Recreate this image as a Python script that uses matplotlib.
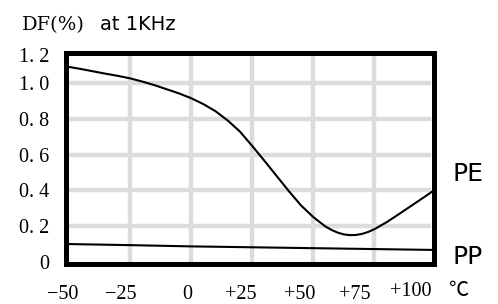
import numpy as np
import matplotlib
matplotlib.use('Agg')
import matplotlib.pyplot as plt

#Datos
temp = [-50, -45, -40, -35, -30, -25, -20, -15, -10, -5, 0, 5, 10, 15, 20, 25,
        30, 35, 40, 45, 50, 55, 57.5, 60, 62.5, 65, 67.5, 70, 72.5, 75, 80, 85,
        90, 95, 100]
pe = [1.09, 1.078, 1.065, 1.052, 1.04, 1.026, 1.008, 0.988, 0.965, 0.942, 0.915,
      0.882, 0.842, 0.79, 0.728, 0.648, 0.565, 0.48, 0.395, 0.315, 0.25, 0.197,
      0.178, 0.163, 0.153, 0.149, 0.15, 0.156, 0.167, 0.182, 0.221, 0.266,
      0.312, 0.358, 0.405]
pp_temp = [-50, -25, 0, 25, 50, 75, 100]
pp = [0.099, 0.093, 0.086, 0.081, 0.076, 0.071, 0.066]

grid_x = [-25, 0, 25, 50, 75]
y_ticks = [0, 0.2, 0.4, 0.6, 0.8, 1.0, 1.2]
y_labels = ['0', '0. 2', '0. 4', '0. 6', '0. 8', '1. 0', '1. 2']
x_labels = ['\u221250', '\u221225', '0', '+25', '+50', '+75', '+100', '\u2103']
x_label_pos = [-52.6, -28.9, -1.5, 20.2, 44.4, 67.1, 89.8, 109.2]

serif = ['Liberation Serif', 'Noto Sans CJK JP']

fig = plt.figure(figsize=(4.98, 3.04), dpi=100)
ax = fig.add_axes([0.1321, 0.1309, 0.7398, 0.6964])

ax.set_xlim(-51.3, 99.5)
ax.set_ylim(-0.0137, 1.1706)

#Rejilla gris
for g in grid_x:
    ax.axvline(g, color='#dcdcdc', lw=3.2, zorder=0)
for t in y_ticks[1:-1]:
    ax.axhline(t, xmax=0.985, color='#dcdcdc', lw=3.2, zorder=0)

ax.plot(temp, pe, color='black', lw=1.5)
ax.plot(pp_temp, pp, color='black', lw=1.5)

for s in ax.spines.values():
    s.set_linewidth(3.6)
    s.set_capstyle('projecting')

ax.set_xticks([])
ax.set_yticks(np.minimum(y_ticks, 1.157))
ax.set_yticklabels(y_labels, family=serif, fontsize=14.5)
ax.tick_params(axis='y', length=0, pad=12)

for lab, xp in zip(x_labels, x_label_pos):
    yy = -0.127 if lab in ('+100', '\u2103') else -0.141
    ax.text(xp, yy, lab, transform=ax.get_xaxis_transform(), ha='center', va='center',
            family=serif, fontsize=14.5)

#Titulo y etiquetas de las curvas
fig.text(22 / 498, 1 - 30 / 304, 'DF(%)', family='DejaVu Serif', fontsize=14, va='baseline')
fig.text(100 / 498, 1 - 30 / 304, 'at 1KHz', family='DejaVu Sans', fontsize=14, va='baseline')
fig.text(452 / 498, 1 - 174 / 304, 'PE', family='DejaVu Sans', fontsize=18, va='center')
fig.text(452 / 498, 1 - 257.5 / 304, 'PP', family='DejaVu Sans', fontsize=18, va='center')

fig.savefig('out.png', dpi=100)
